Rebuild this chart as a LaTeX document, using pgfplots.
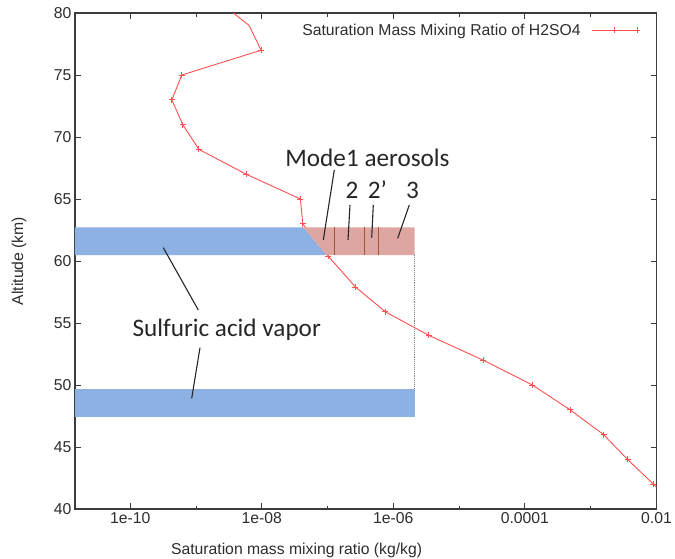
\documentclass[border=0pt]{standalone}
\usepackage{fontspec}
\setmainfont{Liberation Sans}
\newfontfamily\calibri{Carlito}
\usepackage{pgfplots}
\pgfplotsset{compat=1.18}
\definecolor{curvered}{RGB}{255,80,80}
\definecolor{bandblue}{RGB}{140,177,226}
\definecolor{bandpink}{RGB}{222,166,163}
\definecolor{modebrown}{RGB}{165,85,50}
\definecolor{axisgray}{RGB}{60,60,60}
\definecolor{txtgray}{RGB}{45,45,45}
\begin{document}
\begin{tikzpicture}
\useasboundingbox (0,0) rectangle (675bp,-559bp);
\begin{axis}[
  at={(75bp,-13bp)}, anchor=north west,
  scale only axis, width=581.5bp, height=496bp,
  xmode=log, xmin=1.45e-11, xmax=0.01, ymin=40, ymax=80,
  xtick={1e-10,1e-8,1e-6,1e-4,1e-2},
  xticklabels={1e-10,1e-08,1e-06,0.0001,0.01},
  minor xtick={1e-9,1e-7,1e-5,1e-3},
  ytick={40,45,...,80},
  tick align=inside,
  major tick length=6bp, minor tick length=3.5bp,
  tick style={axisgray, line width=0.9bp},
  axis line style={axisgray, line width=1.2bp},
  tick label style={font=\fontsize{15.8}{18}\selectfont, text=txtgray},
  label style={font=\fontsize{15.8}{18}\selectfont, text=txtgray},
  /pgf/number format/assume math mode=true,
  xlabel={Saturation mass mixing ratio (kg/kg)},
  xlabel style={at={(axis description cs:0.381,-0.083)}, anchor=center},
  ylabel={Altitude (km)},
  ylabel style={at={(axis description cs:-0.0963,0.5)}, anchor=center},
  legend plot pos=right,
  legend style={draw=none, fill=none, at={(axis description cs:0.972,0.965)}, anchor=east,
    font=\fontsize{15.8}{18}\selectfont, text=txtgray, inner sep=0pt},
  legend image code/.code={\draw[mark repeat=2,mark phase=2,#1] plot coordinates {(0bp,0bp) (22.5bp,0bp) (45bp,0bp)};},
  clip marker paths=true,
]
\addplot[curvered, line width=0.9bp, mark=+, mark size=3bp, mark indices={2,...,20}] coordinates {
(2.14e-9,81) (6.4e-9,79) (9.8e-9,77) (6.1e-10,75) (4.3e-10,73) (6.3e-10,71)
(1.11e-9,69) (5.8e-9,67) (3.87e-8,65) (4.2e-8,63) (1.02e-7,60.4) (2.66e-7,57.9)
(7.6e-7,55.9) (3.47e-6,54) (2.33e-5,52) (1.3e-4,50) (4.86e-4,48) (1.57e-3,46)
(3.63e-3,44) (9.0e-3,42) (2.2e-2,40)
};
\addlegendentry{Saturation Mass Mixing Ratio of H2SO4\hspace*{9bp}}
% sulfuric acid vapor bands
\addplot[fill=bandblue, draw=none, forget plot] coordinates {
(1.45e-11,60.48) (9.6e-8,60.48) (4.3e-8,62.72) (1.45e-11,62.72)} --cycle;
\addplot[fill=bandblue, draw=none, forget plot] coordinates {
(1.45e-11,47.44) (2.1e-6,47.44) (2.1e-6,49.68) (1.45e-11,49.68)} --cycle;
% aerosol band
\addplot[fill=bandpink, draw=none, forget plot] coordinates {
(4.3e-8,62.72) (2.1e-6,62.72) (2.1e-6,60.48) (9.6e-8,60.48)} --cycle;
\addplot[modebrown, line width=1.3bp, forget plot] coordinates {(1.29e-7,60.48) (1.29e-7,62.72)};
\addplot[modebrown, line width=1.3bp, forget plot] coordinates {(3.68e-7,60.48) (3.68e-7,62.72)};
\addplot[modebrown, line width=1.3bp, forget plot] coordinates {(5.9e-7,60.48) (5.9e-7,62.72)};
\addplot[gray, densely dotted, line width=0.9bp, forget plot] coordinates {(2.1e-6,60.48) (2.1e-6,49.68)};
\end{axis}
\begin{scope}[x=1bp,y=-1bp]
\draw[line width=1.1bp, black!85] (334.3,170) -- (323.3,240);
\draw[line width=1.1bp, black!85] (350,205) -- (348,240);
\draw[line width=1.1bp, black!85] (373.3,205) -- (371.7,237.7);
\draw[line width=1.1bp, black!85] (409.3,205) -- (397.7,238.3);
\draw[line width=1.1bp, black!85] (163.3,247.7) -- (198.3,310);
\draw[line width=1.1bp, black!85] (200,347.7) -- (191.7,398.3);
\begin{scope}[every node/.style={inner sep=0pt, anchor=base, font=\calibri\fontsize{25.3}{28}\selectfont, text=black!85}]
\node at (367.5,166) {Mode1 aerosols};
\node at (352,198.3) {2};
\node at (377.5,198.3) {2’};
\node at (412.5,198.3) {3};
\node at (226.7,336) {Sulfuric acid vapor};
\end{scope}
\end{scope}
\end{tikzpicture}
\end{document}
